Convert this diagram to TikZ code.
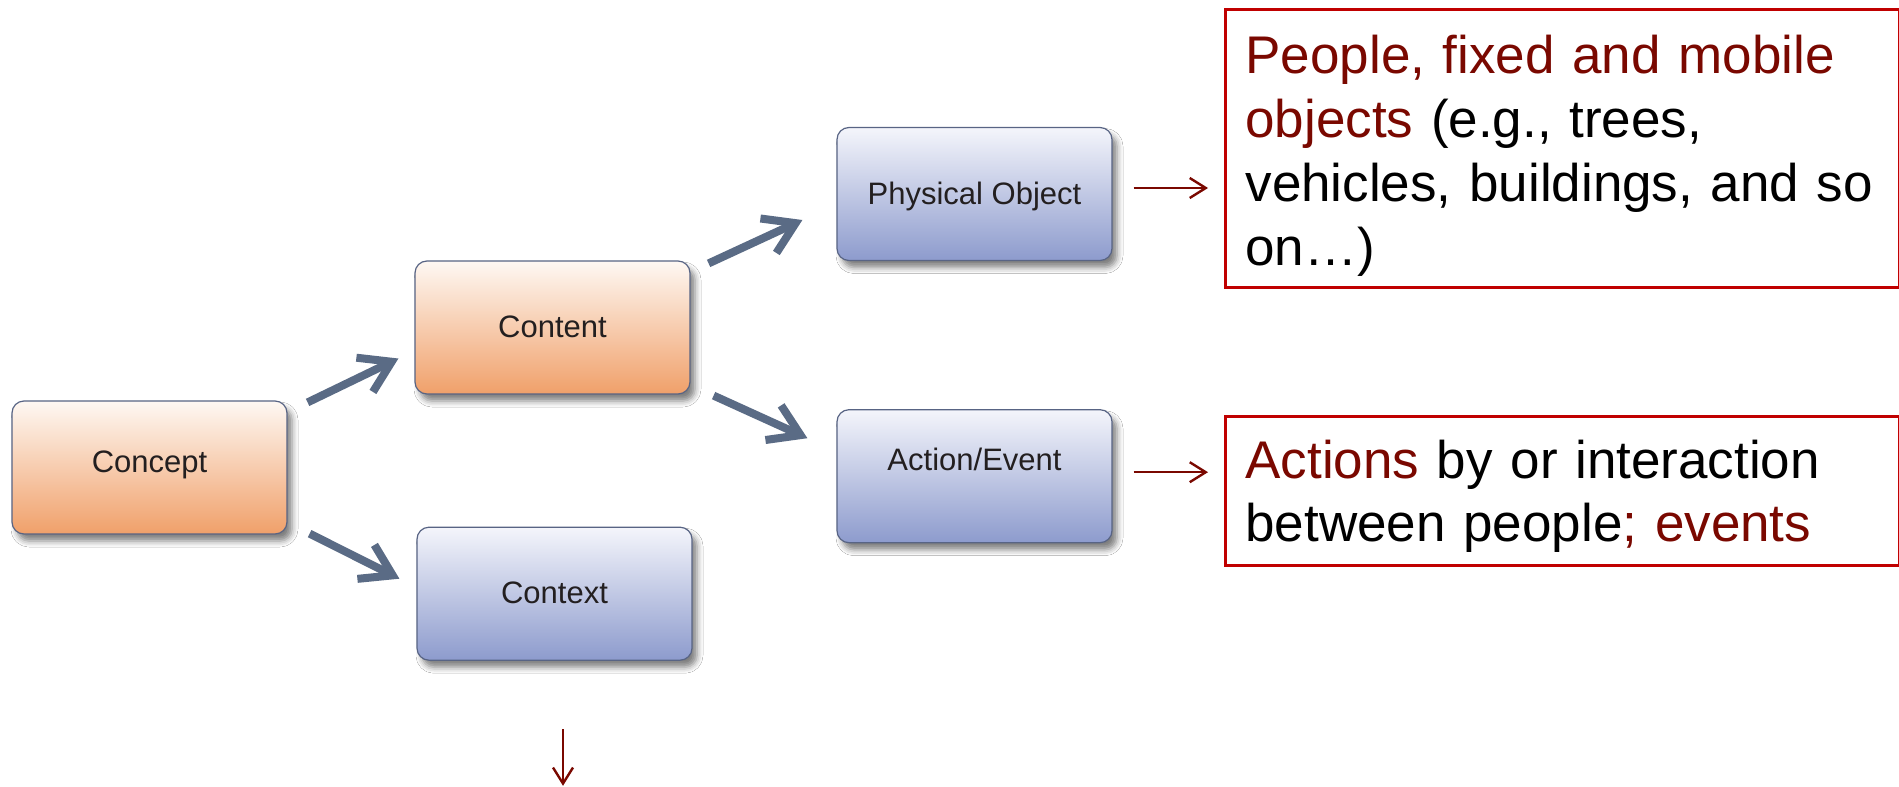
\documentclass[tikz,border=0pt]{standalone}
\usepackage{fontspec}
\setmainfont{Liberation Sans}
\usetikzlibrary{positioning,arrows.meta,calc,shadows.blur}

\definecolor{boxedge}{RGB}{88,100,132}
\definecolor{orangetop}{RGB}{254,248,243}
\definecolor{orangebot}{RGB}{240,160,106}
\definecolor{bluetop}{RGB}{244,245,251}
\definecolor{bluebot}{RGB}{141,155,205}
\definecolor{flowgray}{RGB}{90,107,133}
\definecolor{darkred}{RGB}{122,8,0}
\definecolor{boxred}{RGB}{192,0,0}
\definecolor{labelink}{RGB}{35,31,32}

\newcommand{\hlred}[1]{\textcolor{darkred}{#1}}

\begin{document}
\begin{tikzpicture}[
  x=1pt, y=-1pt,
  box/.style={rounded corners=12pt, draw=boxedge, line width=1.2pt,
              minimum width=275pt, minimum height=133pt,
              font=\fontsize{31}{37}\selectfont, text=labelink,
              text height=22pt, text depth=2pt,
              blur shadow={shadow xshift=5pt, shadow yshift=-7pt,
                           shadow blur radius=6pt, shadow opacity=50}},
  hot/.style={box, top color=orangetop, bottom color=orangebot},
  cool/.style={box, top color=bluetop, bottom color=bluebot},
  note/.style={draw=boxred, line width=3pt, align=left, text width=634pt,
               inner xsep=20pt, inner ysep=0pt, anchor=north west},
  flow/.style={-{Straight Barb[length=30pt,width=38pt]}, line width=8pt, draw=flowgray},
  link/.style={-{Straight Barb[length=16pt,width=20pt]}, line width=2.4pt, draw=darkred},
]
\path[fill=white, use as bounding box] (0,0) rectangle (1899,787);

% ---- concept tree ----
\node[hot, text depth=13pt] (concept) at (149.5,467.5) {Concept};
\node[hot] (content) at (552.5,327.5) {Content};
\node[cool, below=132pt of content, xshift=2pt] (context) {Context};
\node[cool] (phys) at (974.5,194) {Physical Object};
\node[cool, below=148pt of phys, text depth=34pt] (action) {Action/Event};

% ---- explanations ----
\node[note, font=\fontsize{53}{64}\selectfont] (people) at (1224,8)
  {\rule{0pt}{64pt}\hlred{People, fixed and mobile}\\
   \hlred{objects} (e.g., trees,\\
   vehicles, buildings, and so\\
   on…)\rule[-22pt]{0pt}{22pt}};
\node[note, font=\fontsize{53}{63}\selectfont] (actions) at (1224,415)
  {\rule{0pt}{62pt}\hlred{Actions} by or interaction\\
   between people\hlred{; events}\rule[-24pt]{0pt}{24pt}};

\coordinate (ctxout) at ($(context.south)+(8.5,125)$);

% ---- flows ----
\draw[flow] ($(concept.north east)+(20,2)$) -- ($(content.west)+(-16,31)$);
\draw[flow] ($(concept.south east)+(22,-1)$) -- ($(context.west)+(-17,-15)$);
\draw[flow] ($(content.north east)+(18,3)$) -- ($(phys.west)+(-34,26)$);
\draw[flow] ($(content.south east)+(23,1)$) -- ($(action.west)+(-29,-38)$);

\draw[link] ($(phys.east)+(21,-6)$) -- ($(phys.east -| people.west)+(-16,-6)$);
\draw[link] ($(action.east)+(21,-4)$) -- ($(action.east -| actions.west)+(-16,-4)$);
\draw[link] ($(context.south)+(8.5,68.5)$) -- (ctxout);
\end{tikzpicture}
\end{document}
